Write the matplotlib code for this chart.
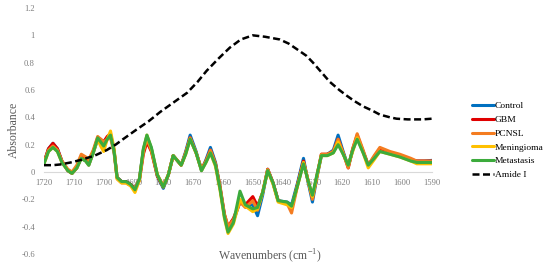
import matplotlib
matplotlib.use("Agg")
import matplotlib.pyplot as plt

plt.rcParams['font.family'] = ['Liberation Serif', 'DejaVu Serif']
plt.rcParams['mathtext.fontset'] = 'custom'
plt.rcParams['mathtext.rm'] = 'Liberation Serif'

# wavenumbers (cm-1) shared by the five spectra
wn = [1720, 1718.5, 1717, 1715.5, 1714, 1712, 1710.6, 1709, 1707.5, 1706,
      1705, 1703.5, 1702, 1701, 1700, 1698.8, 1697.7, 1696.5, 1695.5, 1694,
      1692.5, 1691, 1689.5, 1688, 1686.7, 1685.5, 1684, 1682, 1680, 1678.3,
      1676.7, 1674, 1672.5, 1671, 1669, 1667.2, 1665.7, 1664.2, 1662.5, 1661,
      1659.5, 1658.3, 1656.5, 1654.3, 1652.5, 1650, 1648.4, 1646.7, 1645, 1643.2,
      1641.5, 1638.5, 1637, 1635, 1633, 1631.5, 1630, 1628.5, 1627, 1625,
      1623, 1621.4, 1619.7, 1618, 1616.5, 1615, 1613, 1611.3, 1609.3, 1607.4,
      1604, 1600.7, 1597, 1595, 1592.5, 1590]

control = [0.07, 0.17, 0.21, 0.17, 0.08, 0.01, -0.01, 0.03, 0.10, 0.08,
           0.05, 0.14, 0.24, 0.23, 0.22, 0.25, 0.27, 0.15, -0.04, -0.07,
           -0.07, -0.09, -0.12, -0.05, 0.16, 0.26, 0.17, -0.03, -0.12, -0.02,
           0.12, 0.05, 0.15, 0.27, 0.15, 0.01, 0.09, 0.18, 0.07, -0.11,
           -0.32, -0.42, -0.36, -0.22, -0.24, -0.24, -0.32, -0.17, 0.02, -0.08,
           -0.21, -0.22, -0.24, -0.08, 0.10, -0.07, -0.22, -0.04, 0.12, 0.13,
           0.16, 0.27, 0.15, 0.04, 0.16, 0.26, 0.15, 0.05, 0.11, 0.17,
           0.14, 0.12, 0.09, 0.08, 0.08, 0.085]

gbm = [0.07, 0.17, 0.21, 0.17, 0.08, 0.01, -0.01, 0.03, 0.11, 0.09,
       0.06, 0.15, 0.25, 0.24, 0.22, 0.26, 0.28, 0.16, -0.04, -0.07,
       -0.07, -0.09, -0.12, -0.06, 0.13, 0.22, 0.15, -0.03, -0.11, -0.02,
       0.12, 0.05, 0.14, 0.25, 0.14, 0.02, 0.08, 0.16, 0.06, -0.11,
       -0.31, -0.40, -0.34, -0.22, -0.24, -0.18, -0.25, -0.15, 0.02, -0.08,
       -0.21, -0.23, -0.27, -0.09, 0.08, -0.06, -0.19, -0.03, 0.13, 0.13,
       0.15, 0.24, 0.14, 0.03, 0.17, 0.27, 0.15, 0.05, 0.11, 0.17,
       0.14, 0.12, 0.09, 0.08, 0.08, 0.08]

pcnsl = [0.07, 0.16, 0.19, 0.16, 0.08, 0.02, 0.00, 0.05, 0.13, 0.11,
         0.09, 0.16, 0.26, 0.24, 0.22, 0.24, 0.25, 0.14, -0.05, -0.08,
         -0.08, -0.10, -0.12, -0.05, 0.15, 0.24, 0.16, -0.02, -0.10, -0.02,
         0.12, 0.05, 0.14, 0.25, 0.14, 0.02, 0.08, 0.16, 0.06, -0.10,
         -0.31, -0.40, -0.35, -0.22, -0.26, -0.21, -0.28, -0.15, 0.02, -0.08,
         -0.21, -0.23, -0.30, -0.10, 0.07, -0.06, -0.20, -0.03, 0.13, 0.13,
         0.15, 0.24, 0.14, 0.03, 0.17, 0.28, 0.16, 0.05, 0.12, 0.18,
         0.15, 0.13, 0.10, 0.08, 0.08, 0.08]

meningioma = [0.06, 0.15, 0.18, 0.15, 0.07, 0.01, -0.01, 0.03, 0.10, 0.08,
              0.05, 0.14, 0.24, 0.19, 0.15, 0.24, 0.30, 0.17, -0.05, -0.08,
              -0.08, -0.10, -0.15, -0.06, 0.16, 0.27, 0.17, -0.02, -0.11, -0.02,
              0.12, 0.05, 0.13, 0.24, 0.14, 0.01, 0.07, 0.14, 0.04, -0.13,
              -0.34, -0.45, -0.38, -0.20, -0.25, -0.29, -0.27, -0.15, 0.01, -0.09,
              -0.22, -0.24, -0.26, -0.10, 0.07, -0.06, -0.18, -0.03, 0.12, 0.12,
              0.14, 0.22, 0.13, 0.05, 0.15, 0.25, 0.14, 0.03, 0.09, 0.15,
              0.13, 0.11, 0.08, 0.06, 0.06, 0.06]

metastasis = [0.06, 0.15, 0.18, 0.15, 0.07, 0.01, -0.01, 0.03, 0.10, 0.08,
              0.05, 0.14, 0.25, 0.22, 0.19, 0.24, 0.27, 0.15, -0.04, -0.07,
              -0.07, -0.09, -0.13, -0.05, 0.17, 0.27, 0.18, -0.02, -0.11, -0.02,
              0.12, 0.05, 0.13, 0.24, 0.14, 0.01, 0.07, 0.14, 0.05, -0.12,
              -0.33, -0.44, -0.37, -0.14, -0.24, -0.27, -0.26, -0.15, 0.01, -0.08,
              -0.21, -0.22, -0.25, -0.10, 0.06, -0.06, -0.17, -0.02, 0.12, 0.12,
              0.14, 0.20, 0.13, 0.05, 0.16, 0.24, 0.14, 0.05, 0.10, 0.15,
              0.13, 0.11, 0.08, 0.07, 0.07, 0.07]

amide_wn = [1720, 1717, 1714.6, 1711, 1707.4, 1703, 1699, 1696, 1693.5, 1689,
            1685, 1681, 1676.5, 1672, 1668.5, 1665.5, 1661.5, 1657.7, 1654, 1650,
            1646, 1641, 1638, 1635.3, 1632, 1629.8, 1627, 1624.2, 1621, 1618.6,
            1616, 1613, 1610, 1607.4, 1604, 1601.8, 1598, 1596.3, 1593, 1590]
amide_i = [0.05, 0.05, 0.055, 0.07, 0.09, 0.12, 0.16, 0.20, 0.24, 0.31,
           0.37, 0.44, 0.51, 0.58, 0.66, 0.74, 0.83, 0.91, 0.97, 1.0,
           0.99, 0.97, 0.94, 0.90, 0.85, 0.80, 0.73, 0.66, 0.60, 0.56,
           0.52, 0.48, 0.45, 0.42, 0.40, 0.39, 0.385, 0.385, 0.385, 0.39]

labels = ['Control', 'GBM', 'PCNSL', 'Meningioma', 'Metastasis']
colors = ['#0070C0', '#E00000', '#F47C20', '#FFC000', '#3CAB3C']
x_ticks = [1720, 1710, 1700, 1690, 1680, 1670, 1660, 1650, 1640, 1630, 1620, 1610, 1600, 1590]
y_ticks = [-0.6, -0.4, -0.2, 0, 0.2, 0.4, 0.6, 0.8, 1, 1.2]
y_ticklabels = ['-0.6', '-0.4', '-0.2', '0', '0.2', '0.4', '0.6', '0.8', '1', '1.2']

fig = plt.figure(figsize=(5.5, 2.67), dpi=100)
ax = fig.add_axes([0.08, 0.0487, 0.705, 0.9213])

for series, label, color in zip([control, gbm, pcnsl, meningioma, metastasis], labels, colors):
    ax.plot(wn, series, color=color, lw=2.2, label=label,
            solid_joinstyle='round', solid_capstyle='round')
ax.plot(amide_wn, amide_i, color='black', lw=1.8, ls=(0, (2.8, 1.4)), label='Amide I')

ax.set_xlim(1720, 1590)
ax.set_ylim(-0.6, 1.2)
ax.set_xticks(x_ticks)
ax.set_yticks(y_ticks)
ax.set_yticklabels(y_ticklabels)

for side in ['top', 'right', 'left']:
    ax.spines[side].set_visible(False)
ax.spines['bottom'].set_position(('data', 0))
ax.spines['bottom'].set_color('#d9d9d9')
ax.spines['bottom'].set_linewidth(0.8)
ax.spines['bottom'].set_zorder(0)
ax.tick_params(axis='x', length=0, pad=5, labelsize=6.2, labelcolor='#7f7f7f')
ax.tick_params(axis='y', length=0, pad=6.5, labelsize=6.2, labelcolor='#7f7f7f')

fig.text(0.025, 0.513, 'Absorbance', rotation=90, ha='center', va='center',
         fontsize=8.5, color='#595959')
fig.text(0.49, 0.041, r'Wavenumbers (cm$^{\mathregular{-1}}$)', ha='center', va='center',
         fontsize=8.5, color='#595959')

ax.legend(loc='center left', bbox_to_anchor=(0.858, 0.474), bbox_transform=fig.transFigure,
          frameon=False, fontsize=6.8, handlelength=2.3, handletextpad=0.15,
          labelspacing=0.55, borderpad=0, borderaxespad=0)

fig.savefig('out.png', dpi=100, facecolor='white')
